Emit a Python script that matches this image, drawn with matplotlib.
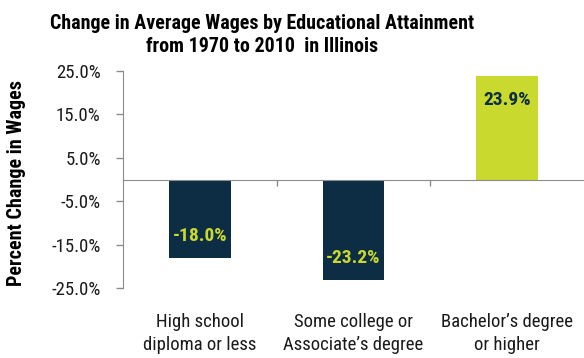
import matplotlib
matplotlib.use("Agg")
import matplotlib.pyplot as plt
from matplotlib import font_manager
import matplotlib.transforms as mtransforms

names = {f.name for f in font_manager.fontManager.ttflist}
fam = "Roboto Condensed" if "Roboto Condensed" in names else "Liberation Sans"
bfam = fam
plt.rcParams['font.family'] = [fam, 'DejaVu Sans']

categories = ["High school\ndiploma or less", "Some college or\nAssociate\u2019s degree", "Bachelor\u2019s degree\nor higher"]
values = [-18.0, -23.2, 23.9]
value_labels = ["-18.0%", "-23.2%", "23.9%"]
yticks = [25, 15, 5, -5, -15, -25]
ytick_labels = ["25.0%", "15.0%", "5.0%", "-5.0%", "-15.0%", "-25.0%"]

navy = "#0C2D44"
lime = "#C9D92E"
bar_colors = [navy, navy, lime]
label_colors = [lime, lime, navy]

fig = plt.figure(figsize=(5.84, 3.58), dpi=100)
ax = fig.add_axes([0.2106, 0.1955, 0.7894, 0.6062])
x = list(range(len(categories)))
ax.bar(x, values, width=0.4, color=bar_colors, zorder=2)
ax.set_xlim(-0.5, 2.5)
ax.set_ylim(-25, 25)
ax.set_yticks(yticks)
ax.set_yticklabels(ytick_labels, fontsize=13.5, color='#1A1A1A')
ax.tick_params(axis='y', direction='out', length=5, color='#8C8C8C', width=1, pad=11)
for s in ['top', 'right']:
    ax.spines[s].set_visible(False)
ax.spines['left'].set_color('#8C8C8C')
ax.spines['bottom'].set_color('#8C8C8C')
ax.spines['bottom'].set_position(('data', 0))
ax.set_xticks([0.5, 1.5])
ax.set_xticklabels([])
ax.tick_params(axis='x', direction='out', length=4, color='#8C8C8C', width=1)

trans = mtransforms.blended_transform_factory(ax.transData, ax.transAxes)
for xi, cat in zip(x, categories):
    ax.text(xi, -0.115, cat, transform=trans, ha='center', va='top', fontsize=13.5,
            color='#1A1A1A', linespacing=1.35)

for xi, v, lab, c in zip(x, values, value_labels, label_colors):
    off = 5.0 if v < 0 else -5.5
    ax.text(xi, v + off, lab, ha='center', va='center', fontsize=14,
            fontweight='bold', color=c, zorder=3, family=[bfam, 'DejaVu Sans'])

fig.text(0.449, 0.902, "Change in Average Wages by Educational Attainment\nfrom 1970 to 2010  in Illinois",
         ha='center', va='center', fontsize=14.4, fontweight='bold', linespacing=1.3,
         family=[bfam, 'DejaVu Sans'])
fig.text(0.029, 0.49, "Percent Change in Wages", rotation=90, ha='center', va='center',
         fontsize=14.5, fontweight='bold', family=[bfam, 'DejaVu Sans'])

fig.savefig("out.png", dpi=100)
